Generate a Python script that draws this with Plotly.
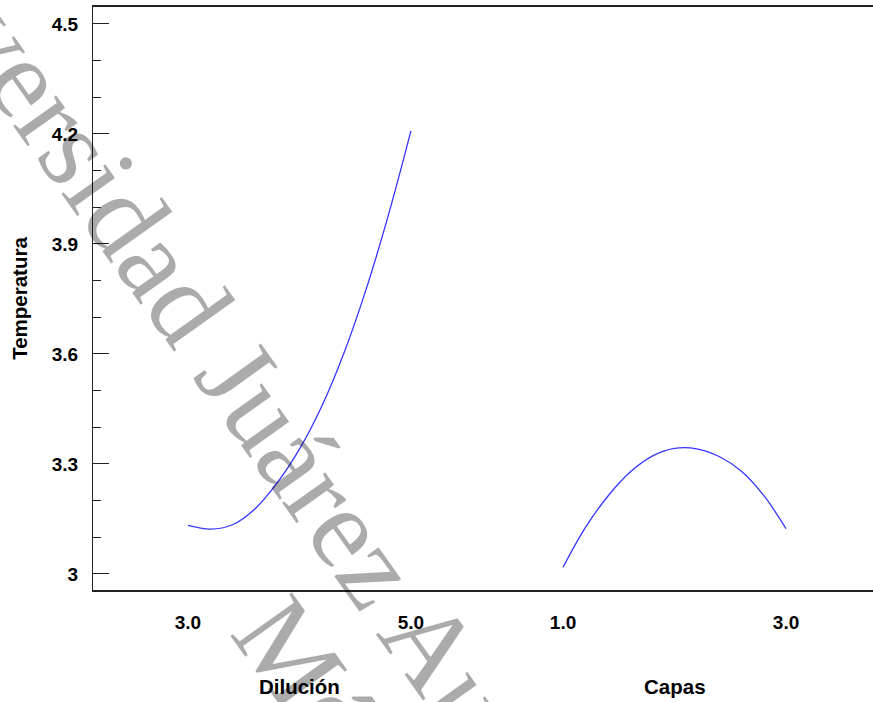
import plotly.graph_objects as go

# ---- data ----
dil_x = [3.0, 3.2, 3.4, 3.6, 3.8, 4.0, 4.2, 4.4, 4.6, 4.8, 5.0]
dil_y = [3.132, 3.122, 3.134, 3.177, 3.248, 3.340, 3.457, 3.603, 3.778, 3.981, 4.208]
cap_x = [1.0, 1.2, 1.4, 1.6, 1.8, 2.0, 2.2, 2.4, 2.6, 2.8, 3.0]
cap_y = [3.018, 3.126, 3.211, 3.277, 3.321, 3.342, 3.341, 3.320, 3.280, 3.214, 3.123]
dil_ticks = [3.0, 5.0]
cap_ticks = [1.0, 3.0]
y_ticks = [3, 3.3, 3.6, 3.9, 4.2, 4.5]
y_range = [2.956, 4.546]
factor_names = ["Dilución", "Capas"]
y_name = "Temperatura"
watermark_1 = "Universidad Juárez Autónoma de Tabasco"
watermark_2 = "México"

LINE = "#3535ff"
AX = "#222222"
TICKFONT = dict(family="Liberation Sans, Arial, sans-serif", size=19, color="black", weight="bold")

fig = go.Figure()
fig.add_trace(go.Scatter(x=dil_x, y=dil_y, mode="lines", xaxis="x", yaxis="y",
                         line=dict(color=LINE, width=1.3, shape="spline", smoothing=1.0),
                         showlegend=False))
fig.add_trace(go.Scatter(x=cap_x, y=cap_y, mode="lines", xaxis="x2", yaxis="y",
                         line=dict(color=LINE, width=1.3, shape="spline", smoothing=1.0),
                         showlegend=False))

split = 0.5051
fig.update_layout(
    width=873, height=702,
    margin=dict(l=93, r=0, t=7, b=112),
    paper_bgcolor="white", plot_bgcolor="white",
    xaxis=dict(domain=[0, split], range=[2.148, 5.682], tickvals=dil_ticks, tickformat=".1f",
               showgrid=False, zeroline=False, showline=True, mirror=True, linecolor=AX, linewidth=1.5,
               ticks="", tickfont=TICKFONT, ticklabelstandoff=14, anchor="y"),
    xaxis2=dict(domain=[split, 1], range=[0.318, 3.780], tickvals=cap_ticks, tickformat=".1f",
                showgrid=False, zeroline=False, showline=True, mirror=True, linecolor=AX, linewidth=1.5,
                ticks="", tickfont=TICKFONT, ticklabelstandoff=14, anchor="y"),
    yaxis=dict(range=y_range, tickvals=y_ticks, showgrid=False, zeroline=False,
               showline=True, linecolor=AX, linewidth=1.2,
               ticks="inside", ticklen=16, tickcolor=AX, tickwidth=1.2,
               minor=dict(dtick=0.1, tick0=3, ticks="inside", ticklen=8, tickcolor=AX, tickwidth=1.2),
               tickfont=TICKFONT, ticklabelstandoff=10,
               title=dict(text=y_name, standoff=18,
                          font=dict(family="Liberation Sans, Arial, sans-serif", size=20.5,
                                    color="black", weight="bold")),
               anchor="x"),
    yaxis2=dict(range=y_range, overlaying="y", side="right", anchor="free", position=1,
                tickvals=y_ticks, showticklabels=False, showgrid=False, zeroline=False,
                showline=False, ticks="inside", ticklen=5, tickcolor=AX, tickwidth=1.2),
)

title_font = dict(family="Liberation Sans, Arial, sans-serif", size=20.5, color="black", weight="bold")
fig.add_annotation(text=factor_names[0], xref="x", yref="paper",
                   x=(min(dil_x) + max(dil_x)) / 2, y=-0.1647,
                   showarrow=False, xanchor="center", yanchor="middle", font=title_font)
fig.add_annotation(text=factor_names[1], xref="x2", yref="paper",
                   x=(min(cap_x) + max(cap_x)) / 2, y=-0.1647,
                   showarrow=False, xanchor="center", yanchor="middle", font=title_font)

# watermark
wm_font = dict(family="Liberation Serif, Times New Roman, serif", size=115, color="rgba(0,0,0,0.33)")
fig.add_annotation(text=watermark_1, xref="paper", yref="paper", x=0.445, y=-0.118,
                   showarrow=False, textangle=54.5, xanchor="center", yanchor="middle", font=wm_font)
fig.add_annotation(text=watermark_2, xref="paper", yref="paper", x=0.344, y=-0.281,
                   showarrow=False, textangle=54.5, xanchor="center", yanchor="middle", font=wm_font)

fig.write_html("out.html")
